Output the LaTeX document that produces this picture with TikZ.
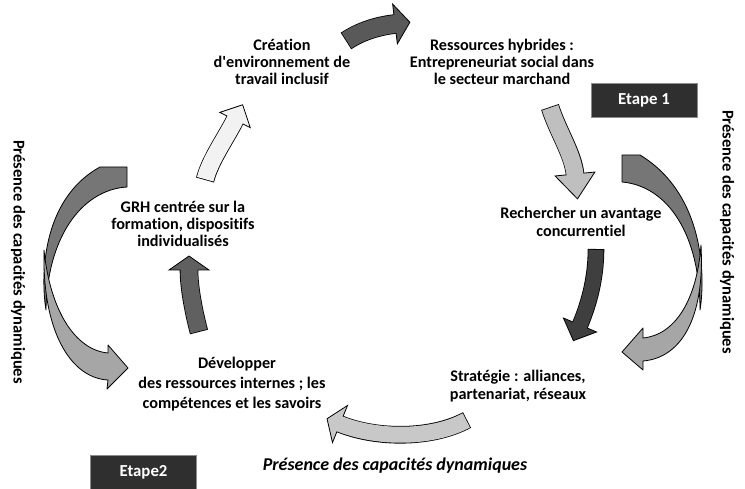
\documentclass[tikz,border=0pt]{standalone}
\usepackage{fontspec}
\setmainfont{Carlito}[Ligatures={TeX,NoCommon}]
\usetikzlibrary{calc}
\definecolor{boxbg}{HTML}{2F2F2F}
\definecolor{boxline}{HTML}{8C8C8C}
\definecolor{cDarkA}{HTML}{595959}
\definecolor{cLight}{HTML}{BFBFBF}
\definecolor{cDarkB}{HTML}{3F3F3F}
\definecolor{cBottom}{HTML}{C8C8C8}
\definecolor{cMid}{HTML}{606060}
\definecolor{cWhite}{HTML}{F2F2F2}
\definecolor{cBack}{HTML}{767676}
\definecolor{cFront}{HTML}{A6A6A6}
% #1 fill, #2 start, #3 c1, #4 c2, #5 end, #6 body width, #7 half head width, #8 head length
\newcommand\blkarrow[8]{%
  \draw[black, line width=#6+1.6pt] (#2) .. controls (#3) and (#4) .. (#5);
  \filldraw[fill=#1, draw=black, line width=0.8pt, line join=miter]
    ($(#5)!#7!90:(#4)$) -- ($(#5)!-#8!(#4)$) -- ($(#5)!#7!-90:(#4)$) -- cycle;
  \draw[#1, line width=#6, shorten <=0.8pt, shorten >=-1.5pt] (#2) .. controls (#3) and (#4) .. (#5);
}
\begin{document}
\begin{tikzpicture}[x=1pt,y=-1pt,
  lbl/.style={font=\fontsize{16.2}{17.3}\selectfont\bfseries, align=center, inner sep=0pt},
  etape/.style={fill=boxbg, draw=boxline, line width=0.8pt, text=white,
    minimum width=106pt, minimum height=34pt, inner sep=0pt,
    font=\fontsize{16.8}{17}\selectfont\bfseries},
  side/.style={font=\fontsize{16.5}{17}\selectfont\bfseries, inner sep=0pt},
  crescent/.style={draw=black, line width=0.8pt, line join=round}]
\useasboundingbox (0,0) rectangle (745,489);

% text nodes
\node[lbl] (creation) at (282,62) {Création\\d\textquotesingle environnement de\\travail inclusif};
\node[lbl] (ress) at (502,62) {Ressources hybrides :\\Entrepreneuriat social dans\\le secteur marchand};
\node[lbl] (rech) at (581,222) {Rechercher un avantage\\concurrentiel};
\node[lbl] (strat) at (518,386) {Stratégie : alliances,\\partenariat, réseaux};
\node[lbl, font=\fontsize{16.2}{20}\selectfont\bfseries] (dev) at (232,384) {\hspace*{10pt}Développer\\des ressources internes ; les\\compétences et les savoirs};
\node[lbl] (grh) at (183,224) {GRH centrée sur la\\formation, dispositifs\\individualisés};
\node[etape] (e1) at (644,100) {Etape 1};
\node[etape] (e2) at (143.5,472) {Etape2};
\node[side, rotate=-90] (pl) at (18,262) {Présence des capacités dynamiques};
\node[side, rotate=-90] (pr) at (727,232) {Présence des capacités dynamiques};
\node[side, font=\fontsize{18}{18}\selectfont\bfseries\itshape] (pb) at (395,466) {Présence des capacités dynamiques};

% block arrows of the cycle
\blkarrow{cDarkA}{346,41}{361,31}{378,26}{395,24}{18pt}{20pt}{15pt}
\blkarrow{cLight}{550,107}{558,132}{573,154}{575,174}{17pt}{20pt}{25pt}
\blkarrow{cDarkB}{596,249}{596,280}{588,306}{580,325}{15pt}{18pt}{17pt}
\blkarrow{cBottom}{467,420}{432,439}{377,439}{340,424}{16pt}{20pt}{14pt}
\blkarrow{cMid}{199,332}{194,313}{189,288}{189,270}{17pt}{20pt}{14pt}
\blkarrow{cWhite}{205,180}{210,160}{226,138}{235,120}{17pt}{17pt}{17pt}

% left crescent arrow
\path[crescent, fill=cBack] (100,167) -- (127,167) -- (127,187)
  .. controls (80,190) and (47,240) .. (46,310)
  .. controls (41,280) and (40,200) .. (100,167) -- cycle;
\path[crescent, fill=cFront] (44,250) .. controls (42,330) and (70,378) .. (108,380)
  -- (107,389) -- (128,368) -- (108,345) -- (108,353)
  .. controls (75,350) and (50,310) .. (44,250) -- cycle;

% right crescent arrow
\path[crescent, fill=cBack] (640,155) -- (622,155) -- (622,182)
  .. controls (668,186) and (700,235) .. (700,310)
  .. controls (705,280) and (706,195) .. (640,155) -- cycle;
\path[crescent, fill=cFront] (701,245) .. controls (705,320) and (680,358) .. (643,361)
  -- (643,370) -- (622,352) -- (643,328) -- (643,338)
  .. controls (675,335) and (697,300) .. (701,245) -- cycle;
\end{tikzpicture}
\end{document}
